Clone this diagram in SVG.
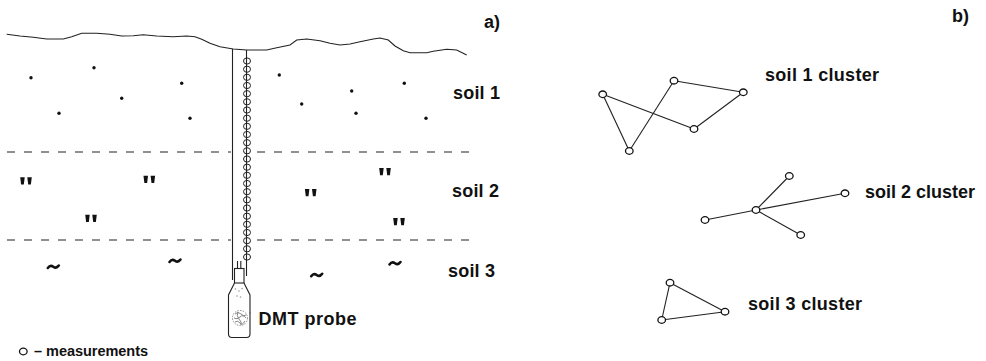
<svg xmlns="http://www.w3.org/2000/svg" width="986" height="361" viewBox="0 0 986 361">
  <style>
    .lbl { font-family: "Liberation Sans", Arial, sans-serif; font-weight: bold; font-size: 18px; fill: #111; }
    .small { font-size: 14.5px; }
    .tag { font-family: "Liberation Sans", Arial, sans-serif; font-weight: bold; font-size: 18px; fill: #111; }
    .ln { stroke: #222; stroke-width: 1.1; fill: none; }
    .dash { stroke: #222; stroke-width: 1.2; stroke-dasharray: 8 9; fill: none; }
    .pt { fill: #111; }
    .node { fill: #fff; stroke: #111; stroke-width: 1.3; }
    .bead { fill: none; stroke: #222; stroke-width: 1; }
    .tl { fill: none; stroke: #111; stroke-width: 2.6; stroke-linecap: round; }
  </style>
  <defs>
    <ellipse id="bead" cx="0" cy="0" rx="3.5" ry="3.1" class="bead"/>
    <ellipse id="node" cx="0" cy="0" rx="3.8" ry="3.3" class="node"/>
    <g id="dq">
      <polygon points="-5.8,-3.8 -1.3,-3.8 -2.2,3.6 -4.9,3.6" class="pt"/>
      <polygon points="1.3,-3.8 5.8,-3.8 4.9,3.6 2.2,3.6" class="pt"/>
    </g>
    <path id="tilde" d="M-5.5,1.2 Q-3,-2.2 0,0 T5.5,-1.2" class="tl"/>
  </defs>

  <rect width="986" height="361" fill="#fff"/>

  <!-- (a) soil profile with borehole -->
  <g id="profile">
    <path class="ln" d="M6.7,34.3 L20,36 L33.3,37.3 L46.7,39 L63.3,39 L71.7,36.7 L81.7,33.3 L96.7,33.3 L110,34.3 L121.7,36 L133.3,35.7 L143.3,34.7 L156.7,36 L173.3,36.7 L186.7,36 L195,36.7 L201.7,39.3 L210,43.3 L220,46.7 L233.3,49 L246.7,50 L266.7,50 L276.7,47.7 L290,45 L296.7,40 L306.7,39 L320,40.7 L330,43.3 L340,45 L350,44 L360,41.7 L373.3,39 L380,38 L388.3,40 L395,46 L403.3,50.7 L410,52.7 L426.7,52.7 L433.3,51.3 L446.7,49.3 L456.7,50 L466.7,55"/>

    <!-- layer boundaries -->
    <path class="dash" d="M7,152 H231 M257,152 H478"/>
    <path class="dash" d="M7,240 H231 M257,240 H478"/>

    <!-- soil 1 texture -->
    <g class="pt">
      <circle cx="31" cy="77.7" r="1.7"/>
      <circle cx="94" cy="67.7" r="1.7"/>
      <circle cx="121.7" cy="98.3" r="1.7"/>
      <circle cx="59" cy="113.3" r="1.7"/>
      <circle cx="181.7" cy="83.3" r="1.7"/>
      <circle cx="190" cy="118.3" r="1.7"/>
      <circle cx="279.3" cy="75" r="1.7"/>
      <circle cx="301.7" cy="104" r="1.7"/>
      <circle cx="351.7" cy="91" r="1.7"/>
      <circle cx="356" cy="113.3" r="1.7"/>
      <circle cx="404.3" cy="83.3" r="1.7"/>
      <circle cx="426" cy="118.3" r="1.7"/>
    </g>

    <!-- soil 2 texture -->
    <use href="#dq" x="26" y="181"/>
    <use href="#dq" x="149.3" y="179.5"/>
    <use href="#dq" x="91" y="218.5"/>
    <use href="#dq" x="310.7" y="192.7"/>
    <use href="#dq" x="385" y="171.7"/>
    <use href="#dq" x="399" y="221.7"/>

    <!-- soil 3 texture -->
    <use href="#tilde" x="53.3" y="266.7"/>
    <use href="#tilde" x="175" y="260.7"/>
    <use href="#tilde" x="316.7" y="275"/>
    <use href="#tilde" x="395" y="263.3"/>

    <text class="lbl" x="453" y="98.5" textLength="47" lengthAdjust="spacing">soil 1</text>
    <text class="lbl" x="452" y="196.5" textLength="47" lengthAdjust="spacing">soil 2</text>
    <text class="lbl" x="448" y="277" textLength="47" lengthAdjust="spacing">soil 3</text>
    <text class="tag" x="484" y="28">a)</text>
  </g>

  <!-- borehole with measurement chain -->
  <g id="borehole">
    <line class="ln" x1="232.5" y1="49" x2="232.5" y2="280"/>
    <line class="ln" x1="246.5" y1="50" x2="246.5" y2="276"/>
    <g>
      <use href="#bead" x="247" y="61"/>
      <use href="#bead" x="247" y="69.2"/>
      <use href="#bead" x="247" y="77.3"/>
      <use href="#bead" x="247" y="85.5"/>
      <use href="#bead" x="247" y="93.7"/>
      <use href="#bead" x="247" y="101.8"/>
      <use href="#bead" x="247" y="110"/>
      <use href="#bead" x="247" y="118.2"/>
      <use href="#bead" x="247" y="126.3"/>
      <use href="#bead" x="247" y="134.5"/>
      <use href="#bead" x="247" y="142.7"/>
      <use href="#bead" x="247" y="150.8"/>
      <use href="#bead" x="247" y="159"/>
      <use href="#bead" x="247" y="167.2"/>
      <use href="#bead" x="247" y="175.3"/>
      <use href="#bead" x="247" y="183.5"/>
      <use href="#bead" x="247" y="191.7"/>
      <use href="#bead" x="247" y="199.8"/>
      <use href="#bead" x="247" y="208"/>
      <use href="#bead" x="247" y="216.2"/>
      <use href="#bead" x="247" y="224.3"/>
      <use href="#bead" x="247" y="232.5"/>
      <use href="#bead" x="247" y="240.7"/>
      <use href="#bead" x="247" y="248.8"/>
      <use href="#bead" x="247" y="257"/>
    </g>
  </g>

  <!-- DMT probe -->
  <g id="probe">
    <line class="ln" x1="237.5" y1="261" x2="237.5" y2="268.5"/>
    <line class="ln" x1="240.8" y1="261" x2="240.8" y2="268.5"/>
    <rect class="ln" x="234.5" y="268.5" width="9.5" height="14.5"/>
    <path class="ln" d="M234.5,283 L228.5,295 L228.5,334 Q228.5,337.5 232,337.5 L246.5,337.5 Q250,337.5 250,334 L250,295 L244,283"/>
    <g fill="#999">
      <circle cx="235.5" cy="289" r="0.8"/>
      <circle cx="239" cy="291" r="0.8"/>
      <circle cx="242" cy="288.5" r="0.8"/>
      <circle cx="237" cy="296" r="0.8"/>
      <circle cx="240.5" cy="297" r="0.8"/>
    </g>
    <circle cx="240" cy="318" r="7.5" fill="none" stroke="#888" stroke-width="1" stroke-dasharray="1.5 1.2"/>
    <path d="M235,314 q3,-3 6,0 t5,1 M234,318 q3,2 6,-1 t6,1 M235,322 q3,-2 5,1 t5,-2 M238,312 q-2,4 1,7 t2,6" fill="none" stroke="#777" stroke-width="0.9"/>
    <line x1="249" y1="313" x2="251" y2="313" stroke="#666" stroke-width="1"/>
    <text class="lbl" x="258.5" y="325" font-size="18.5" textLength="98" lengthAdjust="spacing">DMT probe</text>
  </g>

  <!-- legend -->
  <g id="legend">
    <use href="#node" x="23.3" y="351.5"/>
    <text class="lbl small" x="34" y="356" textLength="114" lengthAdjust="spacing">– measurements</text>
  </g>

  <!-- (b) clusters -->
  <text class="tag" x="952" y="22">b)</text>

  <g id="connectors">
    <g class="ln">
      <!-- soil 1 cluster -->
      <line x1="602.7" y1="94.3" x2="629.3" y2="151"/>
      <line x1="602.7" y1="94.3" x2="694" y2="129"/>
      <line x1="629.3" y1="151" x2="674" y2="80.7"/>
      <line x1="674" y1="80.7" x2="743.3" y2="92.3"/>
      <line x1="743.3" y1="92.3" x2="694" y2="129"/>
      <!-- soil 2 cluster -->
      <line x1="756" y1="210" x2="789.3" y2="176"/>
      <line x1="756" y1="210" x2="845" y2="193.3"/>
      <line x1="756" y1="210" x2="800.7" y2="235"/>
      <line x1="756" y1="210" x2="705" y2="220"/>
      <!-- soil 3 cluster -->
      <line x1="670" y1="282.7" x2="725" y2="311.7"/>
      <line x1="725" y1="311.7" x2="661.7" y2="320"/>
      <line x1="661.7" y1="320" x2="670" y2="282.7"/>
    </g>
  </g>

  <g id="cluster1">
    <use href="#node" x="602.7" y="94.3"/>
    <use href="#node" x="674" y="80.7"/>
    <use href="#node" x="743.3" y="92.3"/>
    <use href="#node" x="694" y="129"/>
    <use href="#node" x="629.3" y="151"/>
    <text class="lbl" x="765" y="81" textLength="114" lengthAdjust="spacing">soil 1 cluster</text>
  </g>

  <g id="cluster2">
    <use href="#node" x="756" y="210"/>
    <use href="#node" x="789.3" y="176"/>
    <use href="#node" x="845" y="193.3"/>
    <use href="#node" x="800.7" y="235"/>
    <use href="#node" x="705" y="220"/>
    <text class="lbl" x="865" y="198" textLength="110" lengthAdjust="spacing">soil 2 cluster</text>
  </g>

  <g id="cluster3">
    <use href="#node" x="670" y="282.7"/>
    <use href="#node" x="725" y="311.7"/>
    <use href="#node" x="661.7" y="320"/>
    <text class="lbl" x="748" y="310" textLength="114" lengthAdjust="spacing">soil 3 cluster</text>
  </g>
</svg>
